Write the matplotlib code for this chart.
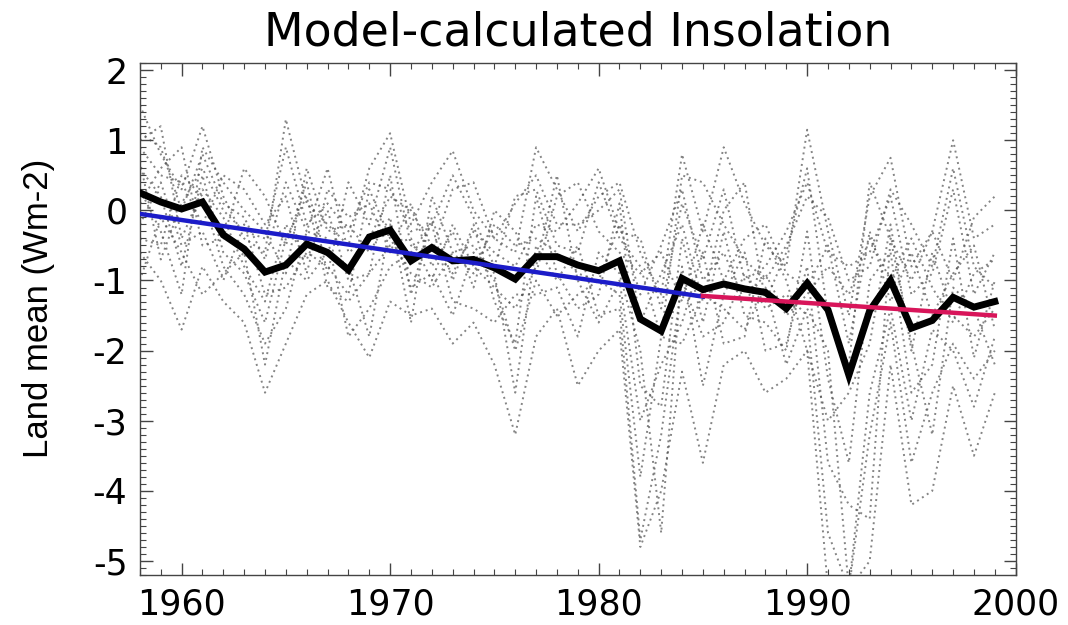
import matplotlib
matplotlib.use("Agg")
import matplotlib.pyplot as plt
from matplotlib.ticker import MultipleLocator
import numpy as np

plt.rcParams['axes.unicode_minus'] = False

years = np.arange(1958, 2000)

# land mean, annual
land_mean = [0.25, 0.12, 0.02, 0.12, -0.35, -0.55, -0.88, -0.78, -0.48, -0.6,
             -0.85, -0.38, -0.28, -0.72, -0.53, -0.72, -0.7, -0.82, -0.98, -0.66,
             -0.66, -0.78, -0.86, -0.72, -1.55, -1.72, -0.97, -1.13, -1.05, -1.12,
             -1.17, -1.4, -1.04, -1.42, -2.35, -1.43, -1.0, -1.68, -1.57, -1.24,
             -1.38, -1.3]

# individual model runs
run_a = [1.5, 0.8, 0.3, 1.2, 0.2, -0.4, -0.6, 1.3, 0.1, -0.2, -0.5, 0.6, 1.1, -0.2,
         0.4, 0.85, 0.0, -0.4, -0.6, 0.9, 0.3, -0.3, 0.2, 0.4, -0.6, -1.2, 0.8, -0.3,
         0.9, 0.1, -0.5, -0.8, 1.15, -0.3, -1.5, 0.2, 0.75, -0.8, -0.3, 1.0, -0.4, -0.2]
run_b = [-0.6, -1.0, -1.7, -0.8, -1.3, -1.6, -2.6, -1.9, -1.2, -1.0, -1.6, -2.1, -1.3,
         -1.5, -1.4, -1.9, -1.6, -2.2, -3.2, -1.8, -1.4, -2.5, -2.0, -1.7, -4.8, -4.0,
         -2.3, -3.6, -2.2, -2.0, -2.6, -2.4, -2.0, -5.4, -5.4, -5.0, -2.2, -4.2, -4.0,
         -2.5, -3.5, -2.6]
run_c = [0.6, 0.2, -0.8, 0.5, -0.6, -0.9, -1.6, -0.4, 0.2, -1.1, -1.3, -0.9, 0.5, -1.2,
         -0.1, -1.0, -0.2, -1.3, -1.9, 0.2, -0.9, -1.4, -1.2, 0.1, -2.5, -2.8, -0.4,
         -1.6, -0.3, -1.5, -1.6, -2.0, -0.3, -2.4, -3.6, -1.0, -0.6, -2.6, -2.2, -0.4,
         -2.1, -1.0]
run_d = [0.9, 0.5, 0.4, -0.2, 0.5, 0.3, -0.2, 0.2, -0.9, 0.3, -0.1, 0.1, -0.6, 0.1,
         -0.8, -0.3, -1.1, 0.0, -0.3, -0.9, 0.2, 0.4, -0.3, -0.6, -0.9, -0.6, -1.3,
         -0.2, -1.0, -0.4, -0.2, -0.9, -1.1, -0.5, -1.9, -0.3, -1.3, -0.6, -1.5, -0.9,
         -0.5, -1.7]
run_e = [-0.2, 0.4, -0.5, -0.3, -1.0, -0.2, -1.2, -1.1, -0.6, -0.8, -1.2, 0.3, -0.4,
         -0.9, -1.1, -0.6, -0.5, -0.9, -2.6, -0.5, -1.0, -0.5, -1.5, -1.4, -4.7, -3.2,
         -1.0, -1.8, -1.6, -0.9, -1.4, -1.2, -1.5, -4.6, -5.4, -2.6, -1.4, -3.0, -1.7,
         -2.0, -2.8, -1.8]
run_f = [1.1, 0.9, 0.0, 0.8, 0.1, -0.1, -0.7, 0.4, -0.3, 0.6, -0.6, -0.4, 0.2, 0.0,
         -0.5, -0.9, -0.3, -0.6, -0.8, -0.2, -0.3, 0.1, 0.6, -0.3, -0.4, -1.4, 0.1,
         -0.7, 0.3, -1.0, -0.8, -0.3, 0.4, -0.6, -0.8, -0.6, 0.2, -1.2, -0.9, 0.3,
         -1.2, -0.6]
run_g = [-0.4, -0.5, 0.5, 0.2, -0.8, -1.2, -1.9, -1.4, -0.3, -0.4, -1.8, -1.4, -0.8,
         -0.6, -0.2, -1.3, -1.4, -1.6, -1.2, -1.2, -1.1, -1.8, -0.6, -0.9, -2.0, -4.6,
         -0.8, -2.5, -1.2, -0.6, -2.0, -1.9, -0.8, -3.6, -4.2, -4.4, -0.4, -1.9, -3.2,
         -1.1, -1.4, -2.2]
run_h = [0.3, -0.3, -1.2, 0.9, 0.4, 0.0, -0.3, -0.9, 0.6, -0.3, -0.2, -0.6, -0.1, -1.6,
         0.2, -0.6, -0.9, -0.2, -0.5, -0.4, -0.6, -0.9, -1.0, -0.2, -1.2, -0.5, 0.3,
         -1.0, -0.6, -1.3, -0.9, -1.5, -1.2, -0.8, -1.2, -0.4, -1.0, -0.4, -1.1, -1.6,
         -0.9, -0.7]
run_i = [1.0, 1.2, -0.4, 0.3, -0.1, -0.8, -1.3, -0.2, -0.7, 0.0, -1.0, -0.9, -0.5, -0.4,
         -1.0, -0.2, -0.8, -1.1, -1.4, -0.8, 0.5, -1.0, -1.6, -1.0, -3.0, -2.2, -1.6,
         -0.6, -1.9, -1.8, -0.4, -1.0, -2.0, -3.0, -2.6, -1.9, -0.2, -2.0, -0.6, -1.5,
         -1.8, -1.4]
run_j = [0.1, 0.6, 0.9, -0.5, -0.4, 0.6, 0.2, -0.5, 0.4, -0.9, 0.4, -0.2, 0.9, -0.5,
         -0.6, 0.3, 0.4, -0.4, 0.1, 0.5, -0.2, -0.2, 0.0, 0.3, -1.6, -0.9, -0.2, -1.3,
         0.0, 0.4, -1.3, -0.6, 0.6, -1.5, -2.2, 0.4, -0.4, -1.0, -0.3, -1.0, -0.1, 0.2]
run_k = [-1.0, -0.1, -0.6, -1.2, -0.9, -0.6, -2.2, -0.7, -1.0, -0.6, -0.8, -1.8, -0.2,
         -1.1, -0.9, -1.5, -0.6, -1.0, -2.0, -1.0, -1.5, -1.2, -1.0, -1.2, -3.8, -1.8,
         -1.9, -1.2, -1.4, -1.7, -1.1, -2.2, -1.4, -2.0, -5.4, -3.2, -1.6, -3.6, -2.6,
         -1.9, -2.4, -2.0]
run_l = [0.7, -0.7, 0.1, 0.6, 0.0, -0.3, -0.4, 0.9, -0.2, 0.1, -0.3, 0.4, 0.3, -0.3,
         -0.2, 0.5, -0.1, -0.8, 0.2, 0.3, -0.5, -0.6, 0.4, -0.4, -0.8, -1.8, 0.5, 0.4,
         -0.2, -0.7, -1.0, -0.5, 0.2, -0.1, -1.0, -0.8, 0.3, -0.2, -0.8, 0.6, -0.8, -1.1]
runs = [run_a, run_b, run_c, run_d, run_e, run_f,
        run_g, run_h, run_i, run_j, run_k, run_l]

# linear trends: (start year, start value, end year, end value)
trend_early = [1958, -0.05, 1985, -1.23]
trend_late = [1985, -1.22, 1999, -1.50]

fig = plt.figure(figsize=(10.68, 6.25), dpi=100)
ax = fig.add_axes([0.131, 0.08, 0.82, 0.819])

for r in runs:
    ax.plot(years, r, color="#505050", lw=1.4, ls=(0, (1, 2.0)), alpha=0.7, zorder=1)

ax.plot(years, land_mean, color="black", lw=5, solid_joinstyle="miter", zorder=3)
ax.plot(trend_early[0::2], trend_early[1::2], color="#1c1cc8", lw=3.2, zorder=4)
ax.plot(trend_late[0::2], trend_late[1::2], color="#d8155a", lw=3.2, zorder=4)

ax.set_xlim(1958, 2000)
ax.set_ylim(-5.2, 2.1)
ax.xaxis.set_major_locator(MultipleLocator(10))
ax.xaxis.set_minor_locator(MultipleLocator(1))
ax.yaxis.set_major_locator(MultipleLocator(1))
ax.yaxis.set_minor_locator(MultipleLocator(0.1))
ax.tick_params(which="both", direction="in", top=True, right=True, color="#444444")
ax.tick_params(which="major", length=9, width=1, pad=9, labelsize=25)
ax.tick_params(which="minor", length=4, width=0.8)
for lab in ax.get_xticklabels() + ax.get_yticklabels():
    lab.set_family("DejaVu Sans")
for s in ax.spines.values():
    s.set_color("#444444")
    s.set_linewidth(1)

ax.set_title("Model-calculated Insolation", fontsize=33, family="DejaVu Sans", pad=13)
ax.set_ylabel("Land mean (Wm-2)", fontsize=25, family="Liberation Sans")
ax.yaxis.set_label_coords(-0.097, 0.52)

fig.savefig("out.png", dpi=100)
